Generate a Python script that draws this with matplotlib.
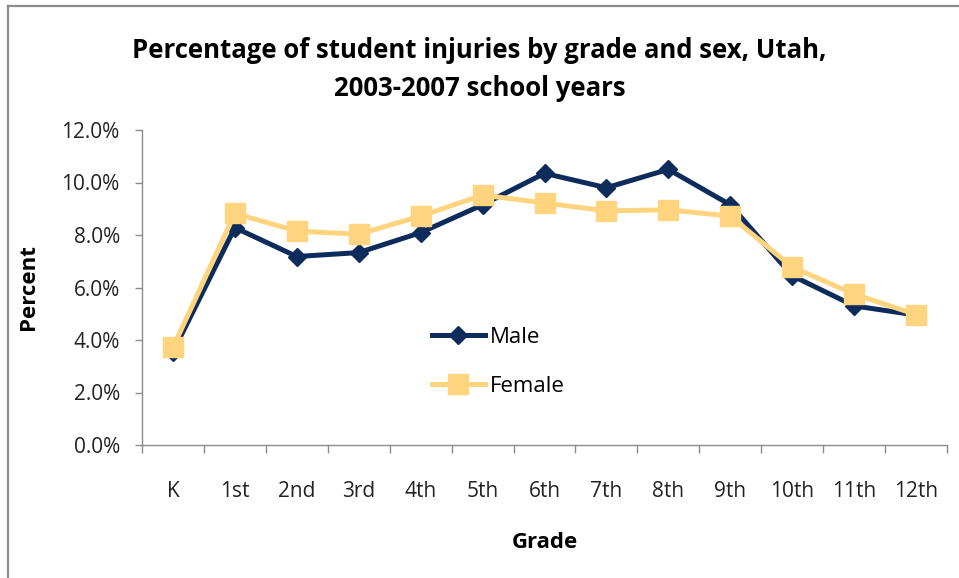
import matplotlib
matplotlib.use("Agg")
import matplotlib.pyplot as plt
from matplotlib.lines import Line2D
from matplotlib.ticker import FixedLocator, PercentFormatter

# Values (percent of injuries per grade)
grades = ["K", "1st", "2nd", "3rd", "4th", "5th", "6th", "7th", "8th",
          "9th", "10th", "11th", "12th"]
male = [3.55, 8.28, 7.18, 7.33, 8.09, 9.15, 10.35, 9.8, 10.5,
        9.15, 6.45, 5.3, 4.95]
female = [3.72, 8.82, 8.15, 8.03, 8.72, 9.52, 9.22, 8.92, 8.96,
          8.72, 6.78, 5.75, 4.97]

MALE_C = "#0D2C5B"
FEMALE_C = "#FFD47F"
GRID_C = "#8C8C8C"

plt.rcParams["font.family"] = ["Open Sans", "DejaVu Sans"]

fig = plt.figure(figsize=(9.59, 5.78), dpi=100)
ax = fig.add_axes([142 / 959, 133 / 578, 805 / 959, 315 / 578])

x = list(range(len(grades)))
ax.plot(x, male, color=MALE_C, lw=3.6, marker="D", ms=9.5, label="Male", zorder=3)
ax.plot(x, female, color=FEMALE_C, lw=3.6, marker="s", ms=14, label="Female", zorder=4)

ax.set_xlim(-0.5, len(grades) - 0.5)
ax.set_ylim(0, 12)
ax.set_yticks([0, 2, 4, 6, 8, 10, 12])
ax.yaxis.set_major_formatter(PercentFormatter(decimals=1))
ax.set_xticks(x)
ax.set_xticklabels(grades)
ax.xaxis.set_minor_locator(FixedLocator([i - 0.5 for i in range(len(grades) + 1)]))

ax.tick_params(axis="x", which="major", length=0, pad=26, labelsize=15, colors="#222222")
ax.tick_params(axis="x", which="minor", length=6, color=GRID_C, width=1)
ax.tick_params(axis="y", length=5, color=GRID_C, width=1, pad=11, labelsize=15,
               labelcolor="#222222")

for s in ["top", "right"]:
    ax.spines[s].set_visible(False)
for s in ["left", "bottom"]:
    ax.spines[s].set_color(GRID_C)
    ax.spines[s].set_linewidth(1)

ax.set_ylabel("Percent", fontsize=16, fontweight="bold")
ax.yaxis.set_label_coords(-0.128, 0.5)
ax.set_xlabel("Grade", fontsize=16, fontweight="bold")
ax.xaxis.set_label_coords(0.5, -0.275)

fig.text(0.5, 1 - 50 / 578, "Percentage of student injuries by grade and sex, Utah,",
         ha="center", va="center", fontsize=18.5, fontweight="bold")
fig.text(0.5, 1 - 88 / 578, "2003-2007 school years",
         ha="center", va="center", fontsize=18.5, fontweight="bold")

ax.legend(loc="center left", bbox_to_anchor=(0.335, 0.263), frameon=False,
          fontsize=16, handlelength=2.4, handletextpad=0.2, labelspacing=1.25)

# outer chart frame (only top and left edges visible in the reference)
fig.add_artist(Line2D([8 / 959, 1], [1 - 6 / 578, 1 - 6 / 578],
                      transform=fig.transFigure, color=GRID_C, lw=1.6))
fig.add_artist(Line2D([8 / 959, 8 / 959], [0, 1 - 6 / 578],
                      transform=fig.transFigure, color=GRID_C, lw=1.6))

fig.savefig("out.png", dpi=100)
